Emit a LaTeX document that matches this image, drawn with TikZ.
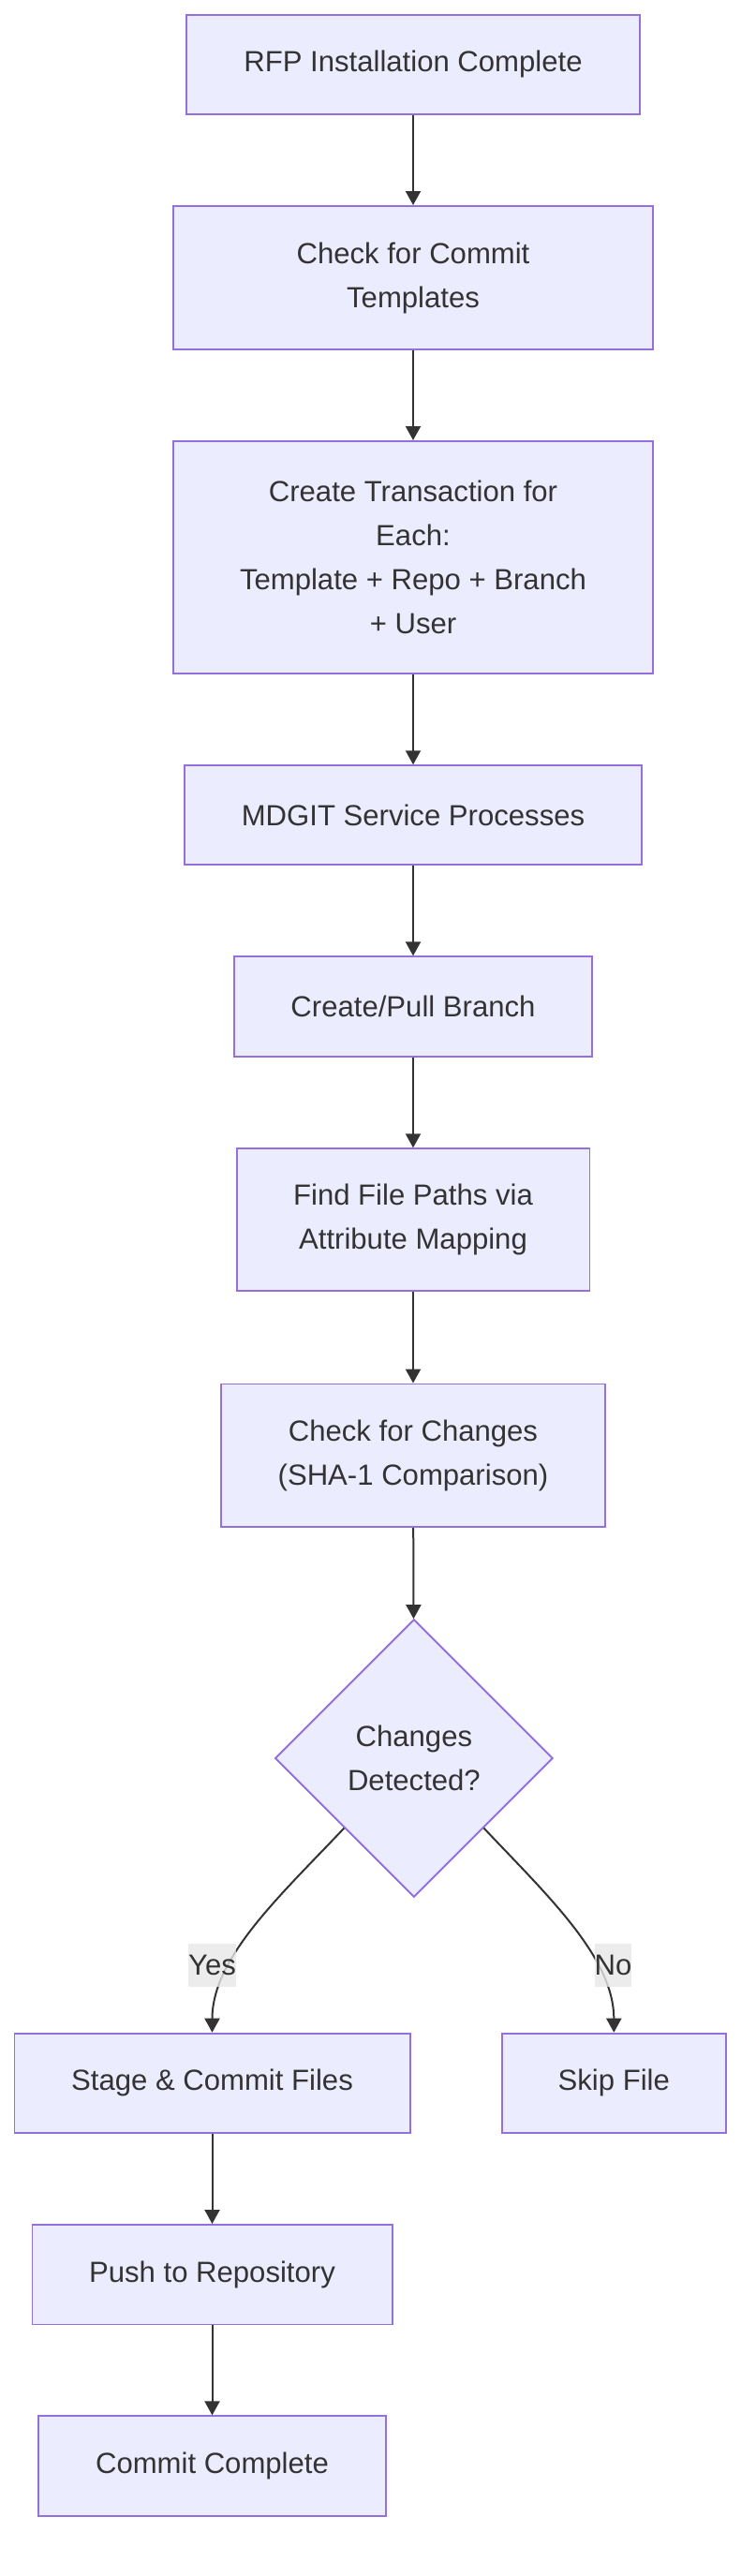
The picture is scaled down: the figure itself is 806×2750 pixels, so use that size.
\documentclass[tikz,border=0pt]{standalone}
\usepackage{fontspec}
\setmainfont{Liberation Sans}
\usetikzlibrary{shapes.geometric,arrows.meta}
\definecolor{boxfill}{HTML}{ECECFF}
\definecolor{boxline}{HTML}{9370DB}
\definecolor{txt}{HTML}{333333}
\definecolor{labelgray}{HTML}{E8E8E8}
\tikzset{
  procbox/.style={rectangle, draw=boxline, fill=boxfill, line width=1.9pt, text=txt,
    align=center, inner sep=0pt, font=\fontsize{31.1}{47.2}\selectfont},
  decide/.style={diamond, aspect=1, draw=boxline, fill=boxfill, line width=1.9pt, text=txt,
    align=center, inner sep=0pt, minimum width=296.6pt, minimum height=296.6pt,
    font=\fontsize{31.1}{47.2}\selectfont},
  edge/.style={draw=txt, line width=2pt, -{Triangle[width=16pt,length=15pt]}},
  elabel/.style={fill=labelgray, fill opacity=0.8, text opacity=1, text=txt, inner xsep=0pt,
    inner ysep=0pt, minimum height=46.6pt, font=\fontsize{31.1}{47.2}\selectfont}
}
\begin{document}
\begin{tikzpicture}[x=1pt,y=-1pt]
\useasboundingbox[fill=white] (0,0) rectangle (806,2750);

\node[procbox, minimum width=483.3pt, minimum height=106.2pt] (n1) at (441,68.7) {RFP Installation Complete};
\node[procbox, minimum width=511.7pt, minimum height=153.3pt] (n2) at (441,296.6) {Check for Commit\\Templates};
\node[procbox, minimum width=511.7pt, minimum height=247.7pt] (n3) at (441,594.8) {Create Transaction for\\Each:\\Template + Repo + Branch\\+ User};
\node[procbox, minimum width=488.3pt, minimum height=105.8pt] (n4) at (441,870.1) {MDGIT Service Processes};
\node[procbox, minimum width=382pt, minimum height=106.5pt] (n5) at (441,1074.6) {Create/Pull Branch};
\node[procbox, minimum width=376.9pt, minimum height=152.1pt] (n6) at (441,1302.3) {Find File Paths via\\Attribute Mapping};
\node[procbox, minimum width=409.8pt, minimum height=152.6pt] (n7) at (441,1553.8) {Check for Changes\\(SHA-1 Comparison)};
\node[decide] (dia) at (441.9,1877) {Changes\\Detected?};
\node[procbox, minimum width=422.1pt, minimum height=106.3pt] (stage) at (226.5,2223.8) {Stage \& Commit Files};
\node[procbox, minimum width=239.1pt, minimum height=106.3pt] (skip) at (655.3,2223.8) {Skip File};
\node[procbox, minimum width=384.1pt, minimum height=106.5pt] (push) at (226.5,2428.2) {Push to Repository};
\node[procbox, minimum width=370.2pt, minimum height=106.4pt] (done) at (226.5,2632.5) {Commit Complete};

\draw[edge] (n1) -- (n2);
\draw[edge] (n2) -- (n3);
\draw[edge] (n3) -- (n4);
\draw[edge] (n4) -- (n5);
\draw[edge] (n5) -- (n6);
\draw[edge] (n6) -- (n7);
\draw[edge] (n7) -- (dia);
\draw[edge] (dia.south west) .. controls ([shift={(-68,72)}]dia.south west) and ([shift={(0,-80)}]stage.north) .. (stage.north);
\draw[edge] (dia.south east) .. controls ([shift={(68,72)}]dia.south east) and ([shift={(0,-80)}]skip.north) .. (skip.north);
\draw[edge] (stage) -- (push);
\draw[edge] (push) -- (done);

\node[elabel] (lyes) at (226.5,2098) {Yes};
\node[elabel] (lno) at (654.5,2098) {No};
\end{tikzpicture}
\end{document}
